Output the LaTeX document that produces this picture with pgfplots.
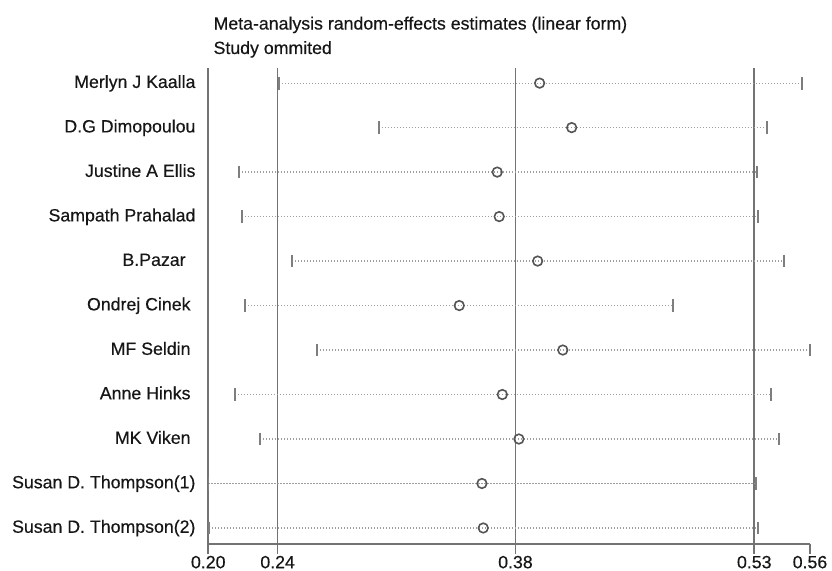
\documentclass[border=0pt]{standalone}
\usepackage{fontspec}
\setmainfont{Liberation Sans}[FakeBold=0.4]
\usepackage{pgfplots}
\usepackage{pgfplotstable}
\pgfplotsset{compat=1.18}
\definecolor{gridc}{HTML}{737373}
\definecolor{dotc}{HTML}{9E9E9E}
\definecolor{endc}{HTML}{7E7E7E}
\definecolor{circc}{HTML}{555555}
\definecolor{txtc}{HTML}{161616}
\pgfplotstableread{
y L E U
11 0.2408 0.3994 0.5592
10 0.3016 0.4189 0.5376
9 0.2166 0.3736 0.5315
8 0.2183 0.3748 0.5321
7 0.2489 0.3982 0.5481
6 0.2203 0.3505 0.4805
5 0.2639 0.4135 0.5639
4 0.2142 0.3767 0.5402
3 0.2292 0.3868 0.5452
2 0.1979 0.3643 0.5309
1 0.1982 0.3651 0.5324
}\data
\begin{document}
\begin{tikzpicture}[x=1pt,y=1pt]
\useasboundingbox (0,0) rectangle (624,428.25);
\node[anchor=base west, inner sep=0pt, font=\fontsize{13.3}{16}\selectfont, text=txtc] at (160,406.1) {Meta-analysis random-effects estimates (linear form)};
\node[anchor=base west, inner sep=0pt, font=\fontsize{13.3}{16}\selectfont, text=txtc] at (160,387.75) {Study ommited};
\begin{axis}[
  at={(156.2pt,20.25pt)}, anchor=south west,
  scale only axis, width=451.3pt, height=357pt,
  xmin=0.1978, xmax=0.5639, ymin=0.64, ymax=11.34,
  clip=false,
  axis x line=bottom, axis y line=left,
  axis line style={-},
  x axis line style={draw=gridc, line width=1.25pt},
  y axis line style={draw=none},
  xtick={0.1978,0.24,0.3847,0.53},
  xticklabels={0.20,0.24,0.38,0.53},
  extra x ticks={0.5639},
  extra x tick labels={0.56},
  extra x tick style={grid=none},
  xmajorgrids,
  major grid style={draw=gridc, line width=1.25pt},
  tick align=outside,
  major tick length=7.5pt,
  xtick style={draw=gridc, line width=1.25pt},
  ytick style={draw=none},
  ytick={1,...,11},
  yticklabels={Susan D. Thompson(2),Susan D. Thompson(1),MK Viken\hphantom{ },Anne Hinks\hphantom{ },MF Seldin\hphantom{ },Ondrej Cinek\hphantom{ },B.Pazar\hphantom{ }\hphantom{ },Sampath Prahalad,Justine A Ellis,D.G Dimopoulou,Merlyn J Kaalla},
  yticklabel style={anchor=east, inner sep=0pt, text height=0.72em, text depth=0pt, xshift=-1.9pt, font=\fontsize{13.3}{16}\selectfont, text=txtc},
  xticklabel style={anchor=north, inner sep=0pt, font=\fontsize{13.3}{16}\selectfont, text=txtc, yshift=-1.2pt},
]
\addplot[dotc, line width=0.9pt, dash pattern=on 0.9pt off 1.35pt, mark=none,
  quiver={u={\thisrow{U}-\thisrow{L}}, v={0}}] table[x=L, y=y] {\data};
\addplot[only marks, mark=|, mark size=4.8pt, mark options={draw=endc, line width=1.3pt}] table[x=L, y=y] {\data};
\addplot[only marks, mark=|, mark size=4.8pt, mark options={draw=endc, line width=1.3pt}] table[x=U, y=y] {\data};
\addplot[only marks, mark=o, mark size=3.6pt, mark options={draw=circc, line width=1.2pt, fill=white}] table[x=E, y=y] {\data};
\end{axis}
\end{tikzpicture}
\end{document}
